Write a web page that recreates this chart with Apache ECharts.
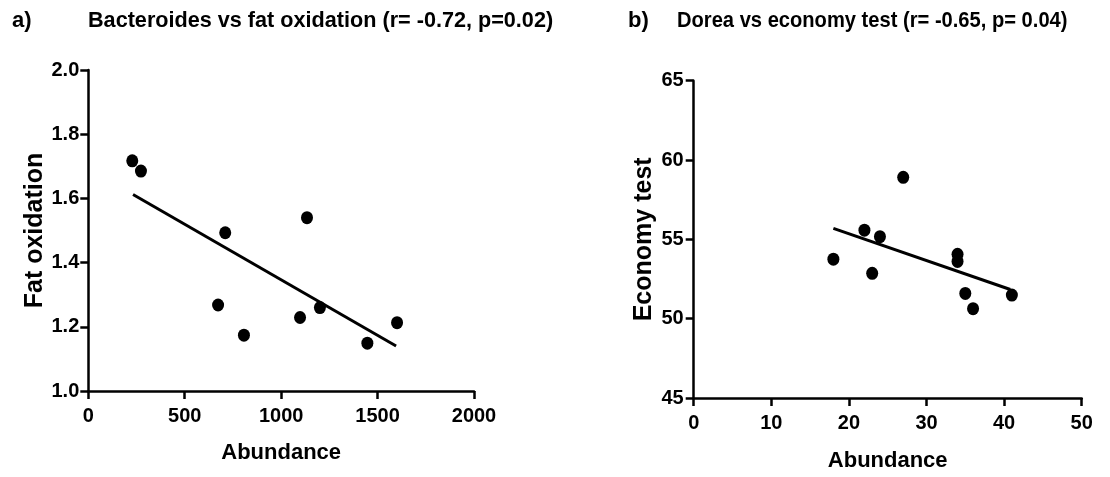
<!DOCTYPE html>
<html>
<head>
<meta charset="utf-8">
<script src="https://cdn.jsdelivr.net/npm/echarts@6/dist/echarts.min.js"></script>
<style>
html,body{margin:0;padding:0;background:#fff;}
#c{width:1110px;height:477px;}
</style>
</head>
<body>
<div id="c"></div>
<script>
// Panel a: Bacteroides abundance vs fat oxidation
const abundanceA = [228, 273, 710, 1134, 673, 807, 1098, 1201, 1447, 1601];
const fatOxidation = [1.717, 1.685, 1.493, 1.540, 1.268, 1.174, 1.229, 1.260, 1.149, 1.213];
const fitA = [[232, 1.612], [1596, 1.140]];
const xTicksA = [0, 500, 1000, 1500, 2000];
const yTicksA = [1.0, 1.2, 1.4, 1.6, 1.8, 2.0];

// Panel b: Dorea abundance vs economy test
const abundanceB = [18, 22, 24, 23, 27, 34, 34, 35, 36, 41];
const economyTest = [53.75, 55.58, 55.17, 52.86, 58.91, 54.06, 53.61, 51.59, 50.63, 51.49];
const fitB = [[18, 55.69], [40.8, 51.84]];
const xTicksB = [0, 10, 20, 30, 40, 50];
const yTicksB = [45, 50, 55, 60, 65];

const FONT = '"Liberation Sans", Arial, sans-serif';
const pairs = (xs, ys) => xs.map((x, i) => [x, ys[i]]);

function axisCommon(extra, labelExtra) {
  return Object.assign({
    type: 'value',
    axisLine: { show: true, onZero: false, lineStyle: { color: '#000', width: 2.5 } },
    axisTick: { show: true, inside: false, length: 8, lineStyle: { color: '#000', width: 2.5 } },
    splitLine: { show: false },
    axisLabel: Object.assign({ color: '#000', fontFamily: FONT, fontWeight: 'bold', fontSize: 20 }, labelExtra),
    nameLocation: 'middle'
  }, extra);
}
const xNameStyle = { color: '#000', fontFamily: FONT, fontWeight: 'bold', fontSize: 22 };
const yNameStyle = { color: '#000', fontFamily: FONT, fontWeight: 'bold', fontSize: 25 };

function titleText(text, x, scaleX) {
  return {
    type: 'text', x: x, y: 21, scaleX: scaleX, scaleY: 1,
    style: { text: text, fill: '#000', font: 'bold 22px ' + FONT,
      textAlign: 'left', textVerticalAlign: 'middle', align: 'left', verticalAlign: 'middle' }
  };
}

const chart = echarts.init(document.getElementById('c'), null, { renderer: 'canvas' });
chart.setOption({
  backgroundColor: '#fff',
  animation: false,
  graphic: [
    titleText('a)', 12, 1),
    titleText('Bacteroides vs fat oxidation (r= -0.72, p=0.02)', 88, 0.983),
    titleText('b)', 628, 1),
    titleText('Dorea vs economy test (r= -0.65, p= 0.04)', 677, 0.915)
  ],
  grid: [
    { left: 88.3, right: 636, top: 70, bottom: 86 },
    { left: 693.7, right: 28.3, top: 80.7, bottom: 75.7 }
  ],
  xAxis: [
    axisCommon({ gridIndex: 0, min: xTicksA[0], max: xTicksA[xTicksA.length - 1], interval: xTicksA[1] - xTicksA[0],
      name: 'Abundance', nameGap: 51, nameTextStyle: xNameStyle },
      { margin: 15, formatter: v => String(v) }),
    axisCommon({ gridIndex: 1, min: xTicksB[0], max: xTicksB[xTicksB.length - 1], interval: xTicksB[1] - xTicksB[0],
      name: 'Abundance', nameGap: 52, nameTextStyle: xNameStyle },
      { margin: 15, formatter: v => String(v) })
  ],
  yAxis: [
    axisCommon({ gridIndex: 0, min: yTicksA[0], max: yTicksA[yTicksA.length - 1], interval: 0.2,
      name: 'Fat oxidation', nameGap: 40, nameTextStyle: yNameStyle },
      { margin: 9, formatter: v => v.toFixed(1) }),
    axisCommon({ gridIndex: 1, min: yTicksB[0], max: yTicksB[yTicksB.length - 1], interval: yTicksB[1] - yTicksB[0],
      name: 'Economy test', nameGap: 37, nameTextStyle: yNameStyle },
      { margin: 10 })
  ],
  series: [
    { type: 'scatter', xAxisIndex: 0, yAxisIndex: 0, data: pairs(abundanceA, fatOxidation),
      symbol: 'circle', symbolSize: [12, 13], itemStyle: { color: '#000', opacity: 1 }, z: 3 },
    { type: 'line', xAxisIndex: 0, yAxisIndex: 0, data: fitA, showSymbol: false, symbol: 'none',
      lineStyle: { color: '#000', width: 3 } },
    { type: 'scatter', xAxisIndex: 1, yAxisIndex: 1, data: pairs(abundanceB, economyTest),
      symbol: 'circle', symbolSize: [12, 13], itemStyle: { color: '#000', opacity: 1 }, z: 3 },
    { type: 'line', xAxisIndex: 1, yAxisIndex: 1, data: fitB, showSymbol: false, symbol: 'none',
      lineStyle: { color: '#000', width: 3 } }
  ]
});
</script>
</body>
</html>
